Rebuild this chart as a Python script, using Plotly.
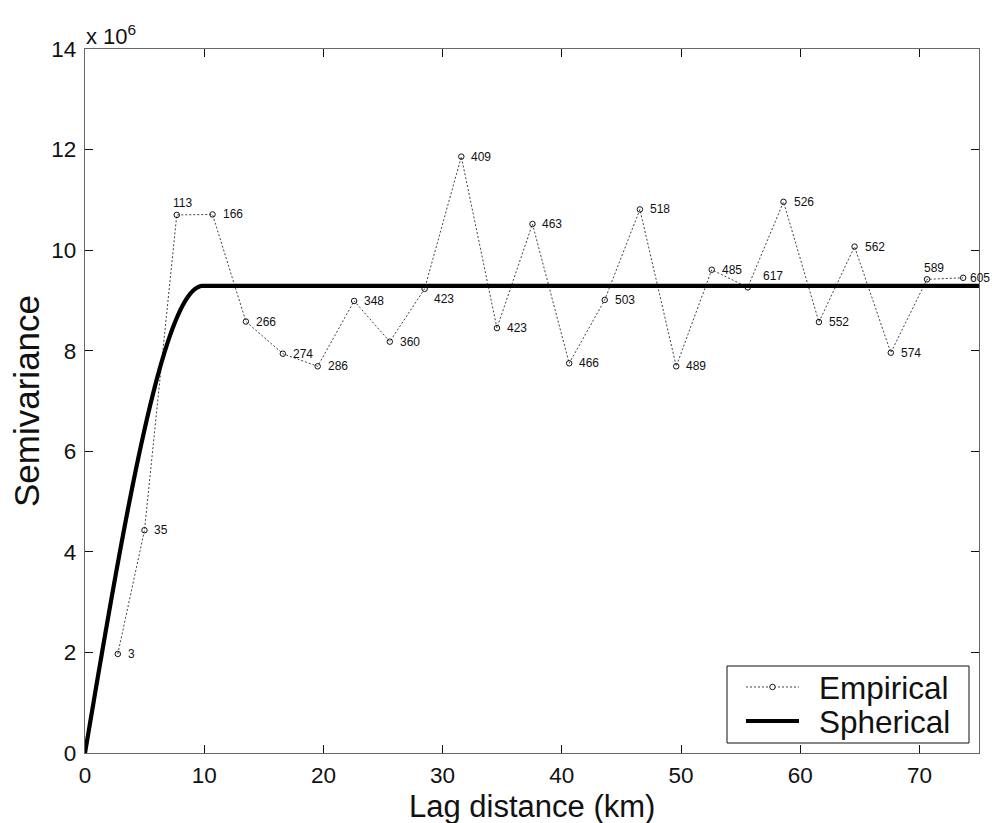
import numpy as np
import plotly.graph_objects as go

# Empirical semivariogram: lag centre (km), semivariance (x 10^6), number of pairs per lag
lag_km = [2.75, 4.99, 7.70, 10.70, 13.50, 16.60, 19.52, 22.58, 25.57, 28.49,
          31.57, 34.56, 37.54, 40.62, 43.60, 46.55, 49.60, 52.58, 55.60, 58.60,
          61.57, 64.56, 67.60, 70.64, 73.67]
semivar_e6 = [1.97, 4.43, 10.70, 10.71, 8.58, 7.94, 7.69, 8.99, 8.18, 9.23,
              11.86, 8.45, 10.52, 7.75, 9.01, 10.81, 7.69, 9.61, 9.26, 10.96,
              8.57, 10.07, 7.96, 9.42, 9.45]
pair_counts = [3, 35, 113, 166, 266, 274, 286, 348, 360, 423,
               409, 423, 463, 466, 503, 518, 489, 485, 617, 526,
               552, 562, 574, 589, 605]

# Fitted spherical model parameters
sill_e6 = 9.29
range_km = 9.9

x_ticks = [0, 10, 20, 30, 40, 50, 60, 70]
y_ticks = [0, 2, 4, 6, 8, 10, 12, 14]

FONT = "Liberation Sans, Arial, sans-serif"
INK = "#111111"

W, H = 992, 823
M_L, M_R, M_T, M_B = 85, 13, 49, 70
PW, PH = W - M_L - M_R, H - M_T - M_B


def px_to_paper(px, py):
    """Page pixel position -> paper fraction of the plotting area."""
    return (px - M_L) / PW, (H - M_B - py) / PH


def spherical(h, c, a):
    h = np.asarray(h, dtype=float)
    r = np.clip(h / a, 0, 1)
    return c * (1.5 * r - 0.5 * r ** 3)


h = np.linspace(0, 75, 1501)
gamma = spherical(h, sill_e6, range_km)

EMP_LINE = dict(color=INK, width=0.8, dash="2px,2px")
SPH_LINE = dict(color="#000000", width=4.2)

fig = go.Figure()
fig.add_trace(go.Scatter(
    x=lag_km, y=semivar_e6, name="Empirical", mode="lines+markers",
    line=EMP_LINE,
    marker=dict(symbol="circle-open", size=5.5, color=INK, line=dict(width=1)),
    cliponaxis=False, showlegend=False,
))
fig.add_trace(go.Scatter(
    x=h, y=gamma, name="Spherical", mode="lines",
    line=dict(**SPH_LINE, simplify=False), showlegend=False,
))

# pair-count labels; a few are nudged off the curve or away from the page edge
label_shift = {2: (-5, 12), 9: (8, -10), 18: (14, 11), 23: (-4, 11), 24: (6, 0)}
for i, (x, y, n) in enumerate(zip(lag_km, semivar_e6, pair_counts)):
    dx, dy = label_shift.get(i, (9, 0))
    fig.add_annotation(
        x=x, y=y, text=str(n), showarrow=False, xanchor="left", yanchor="middle",
        xshift=dx, yshift=dy, borderpad=0, font=dict(family=FONT, size=12, color=INK),
    )

# axis multiplier and axis titles
fig.add_annotation(xref="paper", yref="paper", x=0, y=1, xanchor="left", yanchor="bottom",
                   xshift=-1, yshift=-2, showarrow=False, text="x 10<sup>6</sup>",
                   font=dict(family=FONT, size=22, color=INK))
fig.add_annotation(xref="paper", yref="paper", x=0.5, y=0, xanchor="center", yanchor="middle",
                   yshift=-53, showarrow=False, text="Lag distance (km)",
                   font=dict(family=FONT, size=31, color=INK))
fig.add_annotation(xref="paper", yref="paper", x=0, y=0.5, xanchor="center", yanchor="middle",
                   xshift=-59, showarrow=False, text="Semivariance", textangle=-90,
                   font=dict(family=FONT, size=35, color=INK))

# legend box in the lower-right corner
bx0, by0 = px_to_paper(727, 743)
bx1, by1 = px_to_paper(969, 666)
fig.add_shape(type="rect", xref="paper", yref="paper", x0=bx0, y0=by0, x1=bx1, y1=by1,
              line=dict(color=INK, width=1), fillcolor="white", layer="above")
legend_rows = [("Empirical", 687, EMP_LINE, True), ("Spherical", 721, SPH_LINE, False)]
for name, row_y, line_style, with_marker in legend_rows:
    sx0, sy = px_to_paper(746, row_y)
    sx1, _ = px_to_paper(799, row_y)
    fig.add_shape(type="line", xref="paper", yref="paper", x0=sx0, x1=sx1, y0=sy, y1=sy,
                  line=line_style, layer="above")
    if with_marker:
        cx, _ = px_to_paper(772.5, row_y)
        fig.add_shape(type="circle", xref="paper", yref="paper",
                      xsizemode="pixel", ysizemode="pixel", xanchor=cx, yanchor=sy,
                      x0=-2.75, x1=2.75, y0=-2.75, y1=2.75,
                      line=dict(color=INK, width=1), fillcolor="white", layer="above")
    tx, _ = px_to_paper(817, row_y)
    fig.add_annotation(xref="paper", yref="paper", x=tx, y=sy, xanchor="left", yanchor="middle",
                       yshift=-1, showarrow=False, text=name,
                       font=dict(family=FONT, size=31.5, color=INK))

axis_common = dict(
    showgrid=False, zeroline=False, showline=True, linecolor="#666666", linewidth=1.3,
    mirror="ticks", ticks="inside", ticklen=8, tickwidth=1, tickcolor=INK,
    tickfont=dict(family=FONT, size=22.5, color=INK),
)
fig.update_xaxes(range=[0, 75], tickvals=x_ticks, ticktext=[str(t) for t in x_ticks],
                 ticklabelstandoff=2, **axis_common)
fig.update_yaxes(range=[0, 14], tickvals=y_ticks, ticktext=[str(t) for t in y_ticks],
                 ticklabelstandoff=3, **axis_common)

fig.update_layout(
    width=W, height=H,
    margin=dict(l=M_L, r=M_R, t=M_T, b=M_B, pad=0),
    paper_bgcolor="white", plot_bgcolor="white",
    font=dict(family=FONT, color=INK),
    showlegend=False,
)

fig.write_html("out.html")
